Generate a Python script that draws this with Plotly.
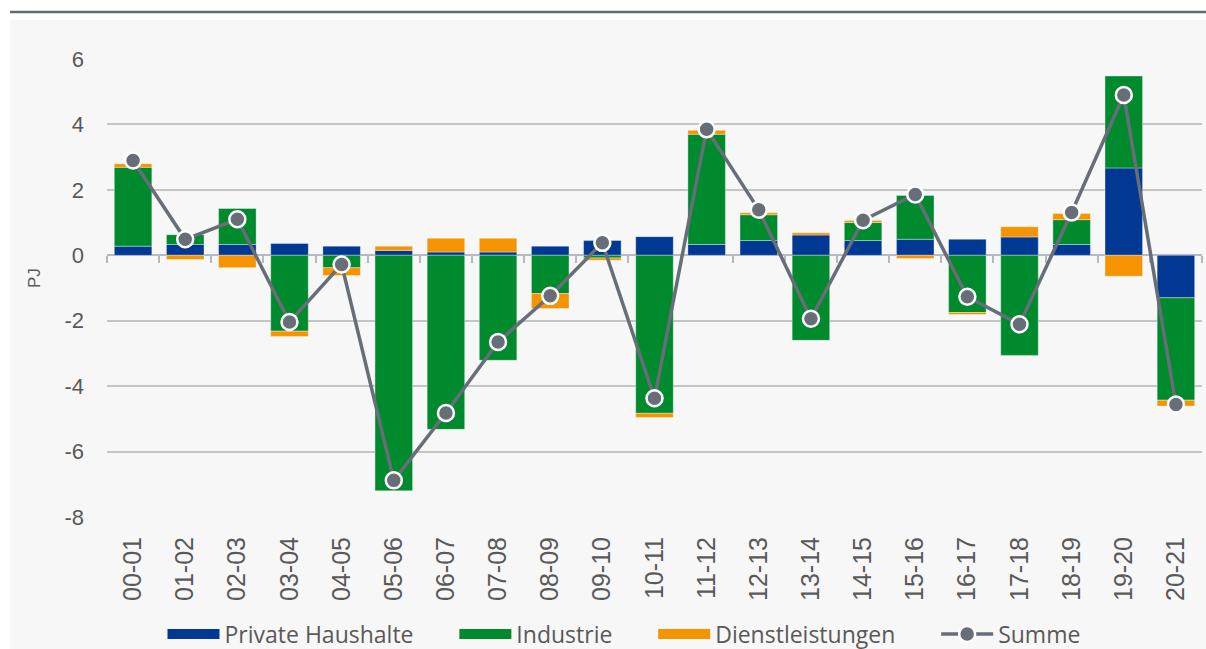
import plotly.graph_objects as go

categories = ["00-01", "01-02", "02-03", "03-04", "04-05", "05-06", "06-07", "07-08",
              "08-09", "09-10", "10-11", "11-12", "12-13", "13-14", "14-15", "15-16",
              "16-17", "17-18", "18-19", "19-20", "20-21"]
private_haushalte = [0.28, 0.33, 0.33, 0.36, 0.28, 0.15, 0.10, 0.10, 0.28, 0.45, 0.57,
                     0.33, 0.45, 0.62, 0.45, 0.49, 0.49, 0.56, 0.33, 2.67, -1.30]
industrie = [2.41, 0.30, 1.10, -2.32, -0.38, -7.20, -5.32, -3.21, -1.17, -0.08, -4.83,
             3.37, 0.79, -2.60, 0.55, 1.34, -1.75, -3.06, 0.76, 2.81, -3.13]
dienstleistungen = [0.11, -0.13, -0.38, -0.16, -0.24, 0.13, 0.42, 0.42, -0.46, -0.07, -0.13,
                    0.12, 0.06, 0.07, 0.06, -0.10, -0.06, 0.31, 0.19, -0.64, -0.18]
summe = [2.90, 0.49, 1.10, -2.04, -0.28, -6.88, -4.82, -2.65, -1.24, 0.38, -4.37,
         3.85, 1.39, -1.94, 1.07, 1.86, -1.27, -2.11, 1.31, 4.90, -4.56]
y_ticks = [-8, -6, -4, -2, 0, 2, 4, 6]
y_tick_labels = ["-8", "-6", "-4", "-2", "0", "2", "4", "6"]

C_BLUE = "#003893"
C_GREEN = "#008a2e"
C_ORANGE = "#f59300"
C_GRAY = "#676e78"
TXT = "#595959"
PAD = "\u00a0" * 6

fig = go.Figure()
series = [("Private Haushalte", private_haushalte, C_BLUE),
          ("Industrie", industrie, C_GREEN),
          ("Dienstleistungen", dienstleistungen, C_ORANGE)]
for name, vals, col in series:
    fig.add_trace(go.Bar(x=categories, y=vals, name=name, marker_color=col,
                         marker_line=dict(color="rgba(255,255,255,0.6)", width=0.6),
                         showlegend=False, legendgroup=name))
    # legend proxy (wide colour bar)
    fig.add_trace(go.Scatter(x=[None], y=[None], mode="lines", name=name + PAD,
                             line=dict(color=col, width=12), legendgroup=name,
                             hoverinfo="skip"))

fig.add_trace(go.Scatter(x=categories, y=summe, name="Summe", mode="lines+markers",
                         line=dict(color=C_GRAY, width=3.5),
                         marker=dict(size=16, color=C_GRAY,
                                     line=dict(color="white", width=2.5))))

# helper trace for the zero axis line with boundary ticks
fig.add_trace(go.Scatter(x=categories, y=summe, xaxis="x2", mode="markers",
                         marker=dict(opacity=0), showlegend=False, hoverinfo="skip"))

L, R, T, B = 107, 1202, 59, 517
W, H = R - L, B - T

def px(x):
    return (x - L) / W

def py(y):
    return (B - y) / H

fig.update_layout(
    width=1206, height=649,
    margin=dict(l=L, r=1206 - R, t=T, b=649 - B),
    barmode="relative", bargap=0.28,
    paper_bgcolor="white", plot_bgcolor="#f7f7f7",
    font=dict(family="Liberation Sans, Arial, sans-serif", color=TXT),
    xaxis=dict(type="category", categoryarray=categories, range=[-0.5, 20.5],
               tickangle=-90, tickfont=dict(size=25, color=TXT), showgrid=False,
               showline=False, ticks="", ticklabelstandoff=14, zeroline=False),
    xaxis2=dict(type="category", categoryarray=categories, range=[-0.5, 20.5],
                overlaying="x", anchor="free", position=8 / 14,
                showticklabels=False, showgrid=False, showline=True,
                linecolor="#b3bac2", linewidth=1.5, ticks="outside",
                tickson="boundaries", ticklen=7, tickwidth=1.5, tickcolor="#b3bac2",
                zeroline=False, layer="below traces"),
    yaxis=dict(range=[-8, 6], tickvals=y_ticks, ticktext=y_tick_labels,
               tickfont=dict(size=22, color=TXT),
               showgrid=True, gridcolor="#c4c4c4", gridwidth=1.5, zeroline=False,
               showline=False, ticklabelstandoff=22),
    legend=dict(orientation="h", xref="paper", x=px(624), xanchor="center",
                yref="container", y=1 - 634 / 649, yanchor="middle",
                itemwidth=52, bgcolor="rgba(0,0,0,0)",
                font=dict(family="Open Sans, Roboto, sans-serif", size=23, color=TXT),
                traceorder="normal", itemclick=False),
    showlegend=True,
    shapes=[
        dict(type="rect", xref="paper", yref="paper", x0=px(10), x1=px(1206),
             y0=py(20), y1=py(649), fillcolor="#f7f7f7", line=dict(width=0),
             layer="below"),
        dict(type="line", xref="paper", yref="paper", x0=px(10), x1=px(1206),
             y0=py(12), y1=py(12), line=dict(color="#5f6b73", width=2.5)),
    ],
    annotations=[
        dict(text="PJ", xref="paper", yref="paper", x=px(34), y=py(278),
             showarrow=False, textangle=-90, font=dict(size=17, color=TXT),
             xanchor="center", yanchor="middle"),
    ],
)

fig.write_html("out.html", config={"displayModeBar": False},
               post_script="document.body.style.margin='0';")
